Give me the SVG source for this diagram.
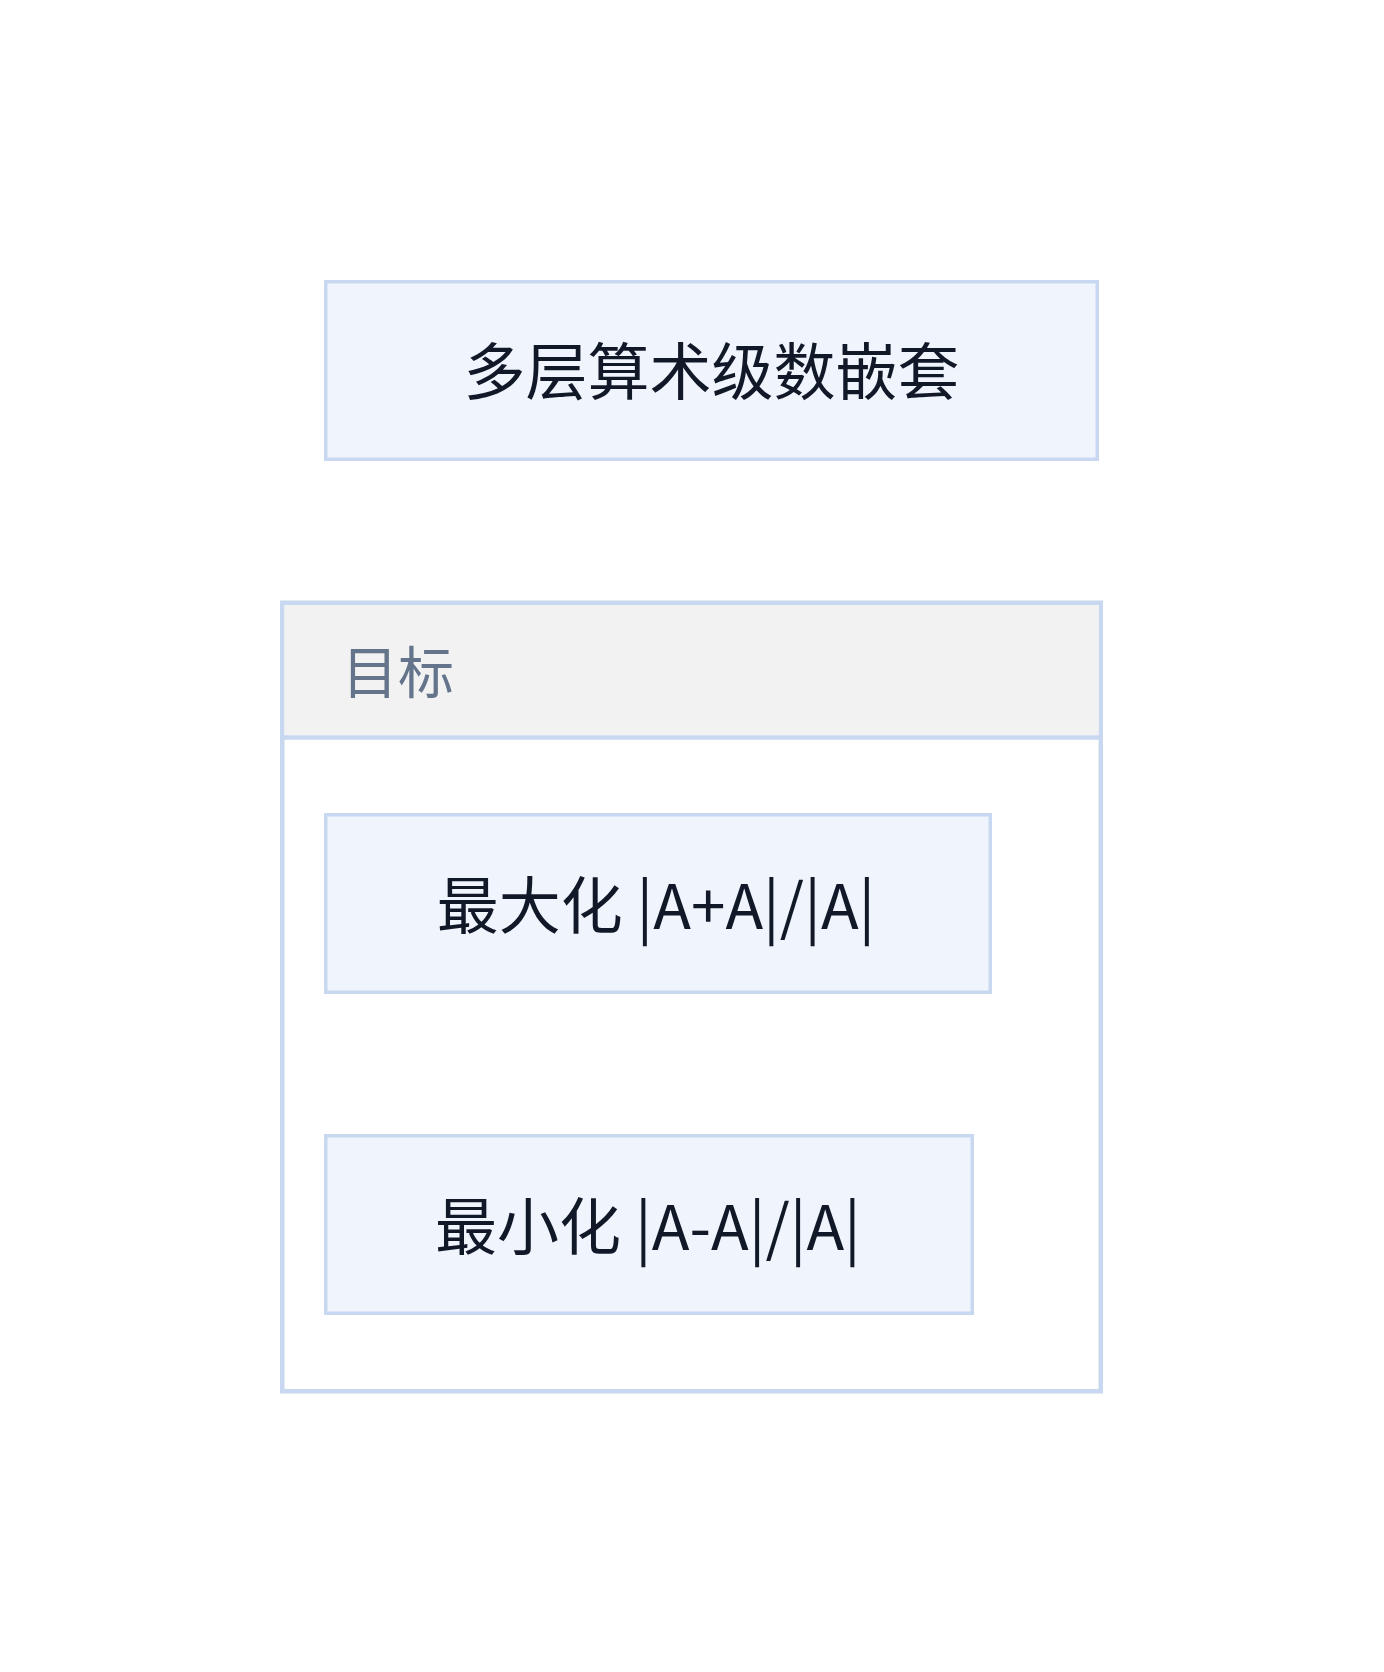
<svg xmlns="http://www.w3.org/2000/svg" width="1384" height="1672" viewBox="0 0 1384 1672">
<style>
.node{fill:#eff4fd;stroke:#c8d8f0;stroke-width:3.5}
.cluster{fill:#ffffff;stroke:#c8d8f0;stroke-width:4.5}
.hdr{fill:#f2f2f2;stroke:none}
.t{font-family:"Noto Sans CJK SC","Noto Sans",sans-serif;fill:#111827;text-anchor:middle}
.lbl{font-family:"Noto Sans CJK SC","Noto Sans",sans-serif;fill:#64748b}
</style>
<rect width="1384" height="1672" fill="#ffffff"/>
<g id="title">
<rect class="node" x="325.75" y="281.75" width="771.5" height="177.5"/>
<text class="t" x="711.5" y="395" font-size="62">多层算术级数嵌套</text>
</g>
<g id="cluster-goal">
<rect class="cluster" x="282.25" y="602.75" width="818.5" height="788.5"/>
<rect class="hdr" x="284.5" y="605" width="814" height="130"/>
<line x1="282" y1="737.5" x2="1101" y2="737.5" stroke="#c8d8f0" stroke-width="4.5"/>
<text class="lbl" x="342" y="693" font-size="56">目标</text>
</g>
<g id="max">
<rect class="node" x="325.75" y="814.75" width="664.5" height="177.5"/>
<text class="t" x="656" y="929" font-size="62">最大化 |A+A|/|A|</text>
</g>
<g id="min">
<rect class="node" x="325.75" y="1135.75" width="646.5" height="177.5"/>
<text class="t" x="648" y="1250" font-size="62">最小化 |A-A|/|A|</text>
</g>
<g id="connectors"></g>
</svg>
